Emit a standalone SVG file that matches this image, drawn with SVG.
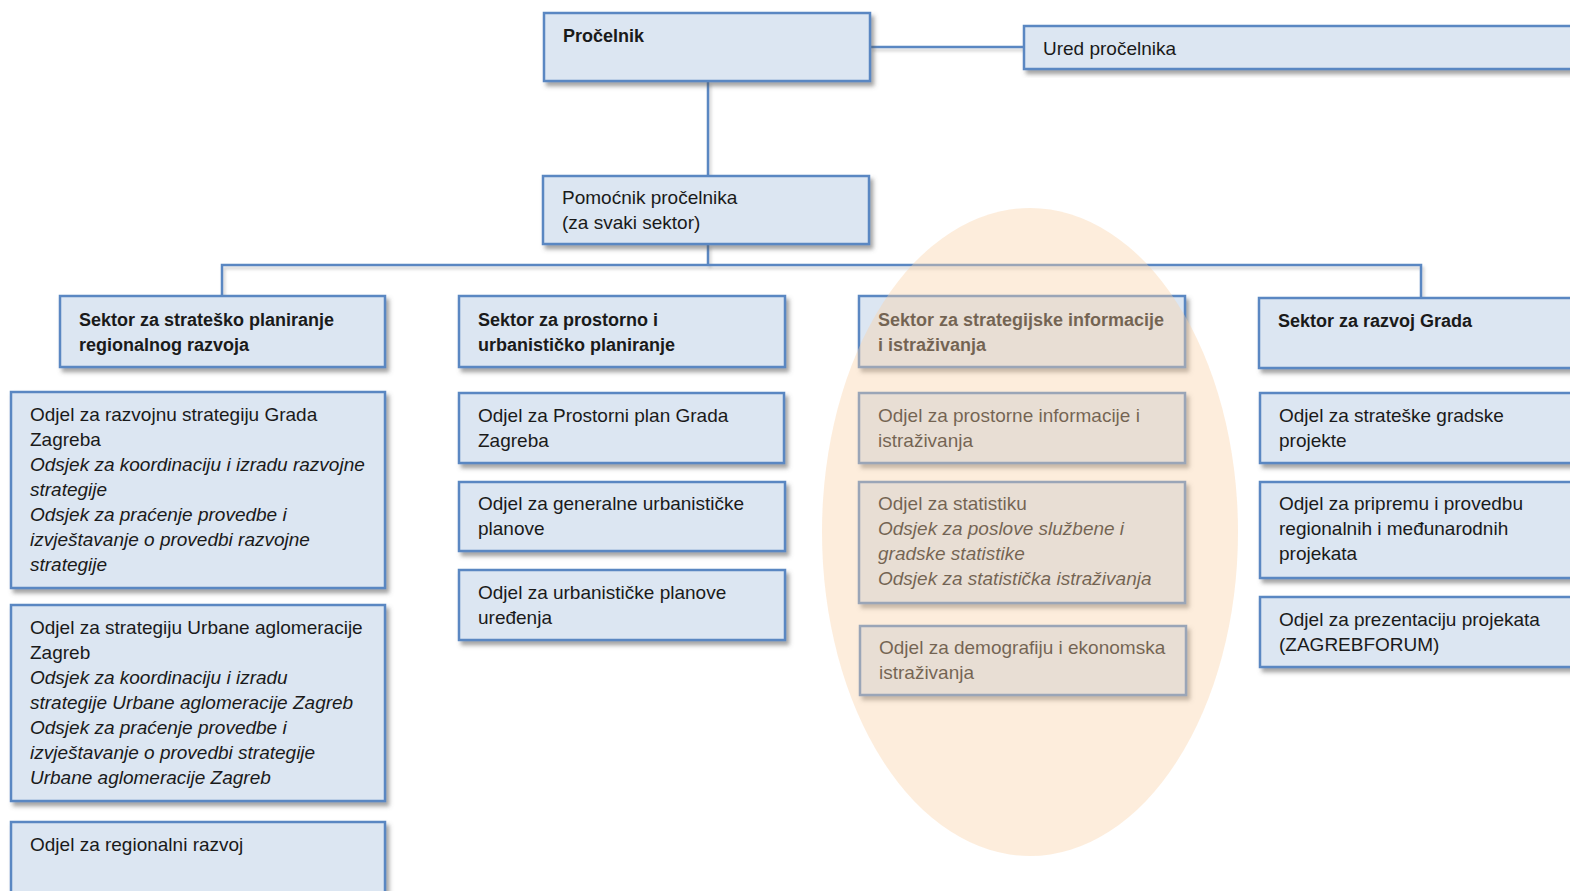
<svg xmlns="http://www.w3.org/2000/svg" width="1570" height="891" viewBox="0 0 1570 891">
<defs>
<filter id="sh" x="-5%" y="-10%" width="115%" height="130%">
<feDropShadow dx="3" dy="4" stdDeviation="2" flood-color="#555" flood-opacity="0.55"/>
</filter>
<filter id="lsh" filterUnits="userSpaceOnUse" x="0" y="0" width="1570" height="891">
<feDropShadow dx="2" dy="3" stdDeviation="1.5" flood-color="#777" flood-opacity="0.35"/>
</filter>
</defs>
<style>
.box{fill:#dce6f2;stroke:#5a87c2;stroke-width:2.5;filter:url(#sh)}
.t{font-family:"Liberation Sans",Arial,sans-serif;font-size:19px;fill:#1a1a1a}
.b{font-family:"Liberation Sans",Arial,sans-serif;font-size:18px;font-weight:bold;fill:#1a1a1a}
.i{font-style:italic}
.ln{fill:none;stroke:#5a87c2;stroke-width:2.5;filter:url(#lsh)}
</style>
<rect width="1570" height="891" fill="#ffffff"/>
<g id="connectors">
<path class="ln" d="M870 47 H1024"/>
<path class="ln" d="M708 81 V176"/>
<path class="ln" d="M708 244 V265"/>
<path class="ln" d="M222 296 V265 H1421 V298"/>
</g>
<g id="procelnik"><rect class="box" x="544" y="13" width="326" height="68"/><text class="b" x="563" y="42">Pročelnik</text></g>
<g id="ured"><rect class="box" x="1024" y="26" width="560" height="43"/><text class="t" x="1043" y="55">Ured pročelnika</text></g>
<g id="pomocnik"><rect class="box" x="543" y="176" width="326" height="68"/><text class="t" x="562" y="204">Pomoćnik pročelnika</text><text class="t" x="562" y="229">(za svaki sektor)</text></g>

<g id="sektor1"><rect class="box" x="60" y="296" width="325" height="71"/><text class="b" x="79" y="326">Sektor za strateško planiranje</text><text class="b" x="79" y="351">regionalnog razvoja</text></g>
<g id="sektor2"><rect class="box" x="459" y="296" width="326" height="71"/><text class="b" x="478" y="326">Sektor za prostorno i</text><text class="b" x="478" y="351">urbanističko planiranje</text></g>
<g id="sektor3"><rect class="box" x="859" y="296" width="326" height="71"/><text class="b" x="878" y="326">Sektor za strategijske informacije</text><text class="b" x="878" y="351">i istraživanja</text></g>
<g id="sektor4"><rect class="box" x="1259" y="298" width="325" height="70"/><text class="b" x="1278" y="327">Sektor za razvoj Grada</text></g>

<g id="odjel-1-1"><rect class="box" x="11" y="392" width="374" height="196"/>
<text class="t" x="30" y="421">Odjel za razvojnu strategiju Grada</text>
<text class="t" x="30" y="446">Zagreba</text>
<text class="t i" x="30" y="471">Odsjek za koordinaciju i izradu razvojne</text>
<text class="t i" x="30" y="496">strategije</text>
<text class="t i" x="30" y="521">Odsjek za praćenje provedbe i</text>
<text class="t i" x="30" y="546">izvještavanje o provedbi razvojne</text>
<text class="t i" x="30" y="571">strategije</text></g>
<g id="odjel-1-2"><rect class="box" x="11" y="605" width="374" height="196"/>
<text class="t" x="30" y="634">Odjel za strategiju Urbane aglomeracije</text>
<text class="t" x="30" y="659">Zagreb</text>
<text class="t i" x="30" y="684">Odsjek za koordinaciju i izradu</text>
<text class="t i" x="30" y="709">strategije Urbane aglomeracije Zagreb</text>
<text class="t i" x="30" y="734">Odsjek za praćenje provedbe i</text>
<text class="t i" x="30" y="759">izvještavanje o provedbi strategije</text>
<text class="t i" x="30" y="784">Urbane aglomeracije Zagreb</text></g>
<g id="odjel-1-3"><rect class="box" x="11" y="822" width="374" height="90"/>
<text class="t" x="30" y="851">Odjel za regionalni razvoj</text></g>

<g id="odjel-2-1"><rect class="box" x="459" y="393" width="325" height="70"/>
<text class="t" x="478" y="422">Odjel za Prostorni plan Grada</text>
<text class="t" x="478" y="447">Zagreba</text></g>
<g id="odjel-2-2"><rect class="box" x="459" y="482" width="326" height="69"/>
<text class="t" x="478" y="510">Odjel za generalne urbanističke</text>
<text class="t" x="478" y="535">planove</text></g>
<g id="odjel-2-3"><rect class="box" x="459" y="570" width="326" height="70"/>
<text class="t" x="478" y="599">Odjel za urbanističke planove</text>
<text class="t" x="478" y="624">uređenja</text></g>

<g id="odjel-3-1"><rect class="box" x="859" y="393" width="326" height="70"/>
<text class="t" x="878" y="422">Odjel za prostorne informacije i</text>
<text class="t" x="878" y="447">istraživanja</text></g>
<g id="odjel-3-2"><rect class="box" x="859" y="482" width="326" height="121"/>
<text class="t" x="878" y="510">Odjel za statistiku</text>
<text class="t i" x="878" y="535">Odsjek za poslove službene i</text>
<text class="t i" x="878" y="560">gradske statistike</text>
<text class="t i" x="878" y="585">Odsjek za statistička istraživanja</text></g>
<g id="odjel-3-3"><rect class="box" x="860" y="626" width="326" height="69"/>
<text class="t" x="879" y="654">Odjel za demografiju i ekonomska</text>
<text class="t" x="879" y="679">istraživanja</text></g>

<g id="odjel-4-1"><rect class="box" x="1260" y="393" width="324" height="70"/>
<text class="t" x="1279" y="422">Odjel za strateške gradske</text>
<text class="t" x="1279" y="447">projekte</text></g>
<g id="odjel-4-2"><rect class="box" x="1260" y="482" width="324" height="96"/>
<text class="t" x="1279" y="510">Odjel za pripremu i provedbu</text>
<text class="t" x="1279" y="535">regionalnih i međunarodnih</text>
<text class="t" x="1279" y="560">projekata</text></g>
<g id="odjel-4-3"><rect class="box" x="1260" y="597" width="324" height="70"/>
<text class="t" x="1279" y="626">Odjel za prezentaciju projekata</text>
<text class="t" x="1279" y="651">(ZAGREBFORUM)</text></g>

<g id="highlight"><ellipse cx="1030" cy="532" rx="208" ry="324" fill="#fbd3a8" fill-opacity="0.4"/></g>
</svg>
